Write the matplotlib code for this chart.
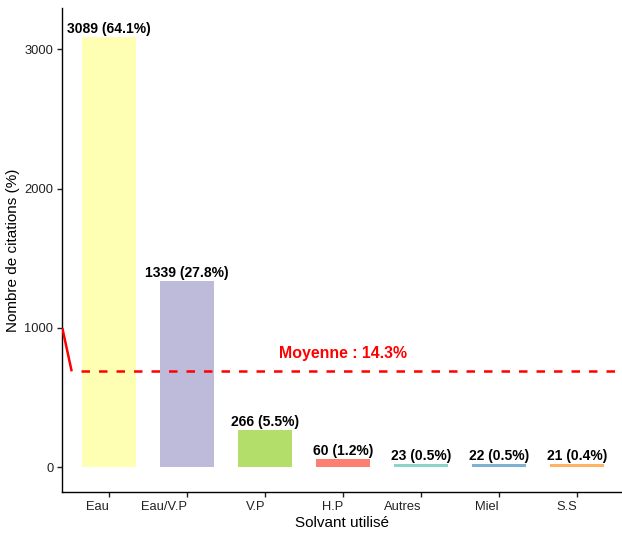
import matplotlib
matplotlib.use("Agg")
import matplotlib.pyplot as plt
import numpy as np

plt.rcParams['font.family'] = ['Liberation Sans', 'DejaVu Sans']
plt.rcParams['lines.scale_dashes'] = False

# Citations par solvant
solvants = ["Eau", "Eau/V.P", "V.P", "H.P", "Autres", "Miel", "S.S"]
citations = [3089, 1339, 266, 60, 23, 22, 21]
couleurs = ["#FFFFB3", "#BEBADA", "#B3DE69", "#FB8072", "#8DD3C7", "#80B1D3", "#FDB462"]

total = sum(citations)
pourcent = [100 * c / total for c in citations]
moyenne = total / len(citations)
moyenne_pct = 100 / len(citations)

fig = plt.figure(figsize=(6.22, 5.35), dpi=100)
ax = fig.add_axes([0.1002, 0.0809, 0.9, 0.9036])

x = np.arange(len(solvants))
ax.bar(x, citations, width=0.7, color=couleurs, zorder=1)

for xi, c, p in zip(x, citations, pourcent):
    ax.annotate(f"{c} ({p:.1f}%)", (xi, c), xytext=(0, 3), textcoords="offset points",
                ha="center", va="baseline", fontsize=10, fontweight="bold", color="black")

# ligne de moyenne
ax.plot([-0.6, -0.48], [1000, moyenne], color="red", lw=1.8, solid_capstyle="butt", zorder=3)
ax.plot([-0.48, 6.5], [moyenne, moyenne], color="red", lw=1.8,
        linestyle=(6.1, (6.1, 6.5)), dash_capstyle="butt", zorder=3)
ax.text(3, 782, f"Moyenne : {moyenne_pct:.1f}%", color="red", fontsize=11.4,
        fontweight="bold", ha="center", va="baseline")

ax.set_xlim(-0.6, 6.58)
ax.set_ylim(-175, 3293)
ax.set_yticks([0, 1000, 2000, 3000])
ax.set_xticks(x)
ax.set_xticklabels(solvants, ha="right")

for s in ["top", "right"]:
    ax.spines[s].set_visible(False)
for s in ["left", "bottom"]:
    ax.spines[s].set_linewidth(1.0)
    ax.spines[s].set_color("black")

ax.tick_params(axis="both", length=3.5, width=1.0, color="#222222", labelsize=9.3,
               labelcolor="#222222", pad=3)
ax.set_xlabel("Solvant utilisé", fontsize=11, labelpad=2)
ax.set_ylabel("Nombre de citations (%)", fontsize=11, labelpad=3)

fig.savefig("out.png", dpi=100)
